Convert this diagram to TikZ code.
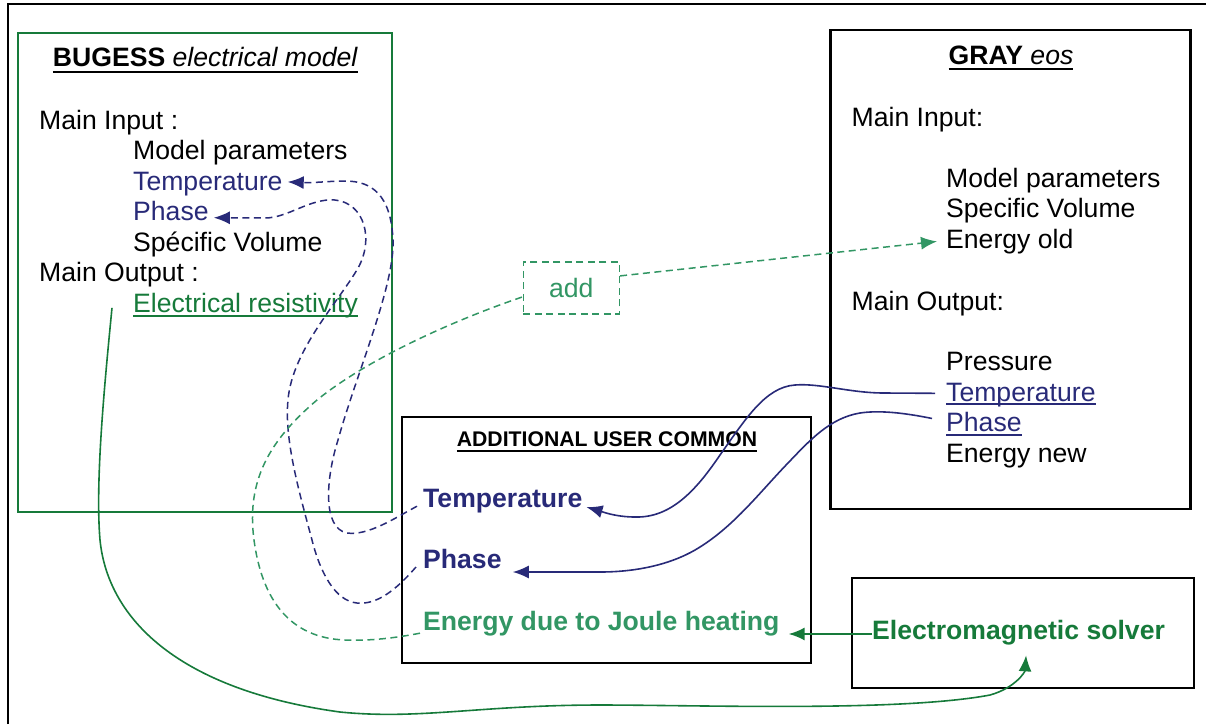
\documentclass[tikz,border=0pt]{standalone}
\usepackage{fontspec}
\setmainfont{Liberation Sans}
\usetikzlibrary{arrows.meta}
\definecolor{navyc}{RGB}{40,42,120}
\definecolor{dkgreen}{RGB}{22,122,58}
\definecolor{ltgreen}{RGB}{50,150,100}
\newcommand{\myul}[3]{\setbox0\hbox{#1}\rlap{\rule[-#2pt]{\wd0}{#3pt}}\box0}
\begin{document}
\begin{tikzpicture}[x=1pt,y=-1pt,
  txt/.style={anchor=base west, inner sep=0pt, font=\fontsize{26.6}{31}\selectfont},
  btxt/.style={anchor=base west, inner sep=0pt, font=\fontsize{26.6}{31}\selectfont\bfseries},
  ttl/.style={anchor=base, inner sep=0pt, font=\fontsize{26.6}{31}\selectfont},
  box/.style={draw, line width=2.2pt, inner sep=0pt},
  tip/.style={-{Latex[length=16pt,width=13pt]}},
  navyd/.style={draw=navyc, line width=1.5pt, dash pattern=on 7pt off 4.5pt, tip},
  navys/.style={draw=navyc, line width=1.6pt, tip},
  greens/.style={draw=dkgreen, line width=1.6pt, tip},
  greend/.style={draw=ltgreen, line width=1.5pt, dash pattern=on 7pt off 4.5pt},
]
\useasboundingbox (0,0) rectangle (1206,724);
% outer frame
\draw[line width=2.5pt] (8,724) -- (8,4) -- (1206,4);

% boxes
\node[box, draw=dkgreen, line width=2pt, minimum width=374pt, minimum height=479pt] (bugess) at (204.8,272.5) {};
\node[box, minimum width=360pt, minimum height=479pt] (gray) at (1010.5,269.7) {};
\node[box, minimum width=409pt, minimum height=246pt] (addc) at (606.8,540.3) {};
\node[box, minimum width=342pt, minimum height=110pt] (emb) at (1023,633) {};
\node[draw=ltgreen, line width=1.5pt, dash pattern=on 7pt off 4.5pt, minimum width=96pt, minimum height=52pt, inner sep=0pt,
      text=ltgreen, font=\fontsize{26.6}{31}\selectfont] (add) at (571.3,287.9) {add};

% BUGESS texts
\node[ttl] (btitle) at (205.5,66.5) {\myul{\textbf{BUGESS} \textit{electrical model}}{6}{2}};
\node[txt] (bMI) at (39,129.5) {Main Input :};
\node[txt] (bMP) at (133,159.9) {Model parameters};
\node[txt, text=navyc] (bT) at (133,190.3) {Temperature};
\node[txt, text=navyc] (bP) at (133,220.7) {Phase};
\node[txt] (bSV) at (133,251.1) {Spécific Volume};
\node[txt] (bMO) at (39,281.5) {Main Output :};
\node[txt, text=dkgreen] (bEr) at (133,312) {\myul{Electrical resistivity}{4.8}{1.6}};

% GRAY texts
\node[ttl] (gtitle) at (1011,64) {\myul{\textbf{GRAY} \textit{eos}}{6}{2}};
\node[txt] (gMI) at (851.5,126) {Main Input:};
\node[txt] (gMP) at (946,187.3) {Model parameters};
\node[txt] (gSV) at (946,217.8) {Specific Volume};
\node[txt] (gEo) at (946,248.3) {Energy old};
\node[txt] (gMO) at (851.5,310) {Main Output:};
\node[txt] (gPr) at (946,370.7) {Pressure};
\node[txt, text=navyc] (gT) at (946,401.2) {\myul{Temperature}{3.8}{1.6}};
\node[txt, text=navyc] (gP) at (946,431.7) {\myul{Phase}{3.8}{1.6}};
\node[txt] (gEn) at (946,462.2) {Energy new};

% ADDITIONAL texts
\node[anchor=base, inner sep=0pt, font=\fontsize{21.2}{25}\selectfont\bfseries] (atitle) at (607,446.7) {\myul{ADDITIONAL USER COMMON}{5}{1.8}};
\node[btxt, text=navyc] (aT) at (423,507) {Temperature};
\node[btxt, text=navyc] (aP) at (423,568) {Phase};
\node[btxt, text=ltgreen] (aE) at (423,630) {Energy due to Joule heating};

% EM solver
\node[btxt, text=dkgreen] (emT) at (872,639.5) {Electromagnetic solver};

% dashed navy: ADD Temperature -> BUGESS Temperature
\draw[navyd] ([xshift=-6pt,yshift=-5.6pt]aT.west)
  .. controls (395,518) and (368,536) .. (347,533)
  .. controls (322,528) and (326,478) .. (338,440)
  .. controls (356,375) and (395,285) .. (393,240)
  .. controls (391,195) and (372,181) .. (345,181)
  .. controls (330,181) and (315,183) .. ([xshift=5pt,yshift=2pt]bT.east);

% dashed navy: ADD Phase -> BUGESS Phase
\draw[navyd] ([xshift=-7pt,yshift=-8.5pt]aP.west)
  .. controls (396,590) and (377,605) .. (357,603)
  .. controls (335,601) and (320,572) .. (312,540)
  .. controls (300,495) and (284,440) .. (288,400)
  .. controls (292,350) and (340,300) .. (358,268)
  .. controls (374,240) and (365,203) .. (335,200)
  .. controls (310,198) and (288,218) .. (265,218)
  -- ([xshift=5pt,yshift=-6.5pt]bP.east);

% dashed green: Energy due -> add -> Energy old
\draw[greend] ([xshift=-3pt,yshift=-10pt]aE.west)
  .. controls (395,638) and (370,641) .. (345,640)
  .. controls (290,638) and (262,600) .. (254,540)
  .. controls (246,480) and (270,440) .. (317,400)
  .. controls (370,357) and (460,318) .. ([yshift=-9pt]add.west);
\draw[greend, tip] ([yshift=12pt]add.east) -- ([xshift=-9pt]gEo.west);

% solid navy: GRAY Temperature -> ADD Temperature
\draw[navys] ([xshift=-11pt,yshift=1.5pt]gT.west) -- (884,393)
  .. controls (850,393) and (820,383) .. (795,385)
  .. controls (765,387) and (745,420) .. (720,455)
  .. controls (695,492) and (670,518) .. (635,517)
  .. controls (615,517) and (600,511) .. ([xshift=4pt,yshift=-6.5pt]aT.east);

% solid navy: GRAY Phase -> ADD Phase
\draw[navys] ([xshift=-14pt,yshift=5.5pt]gP.west)
  .. controls (905,413) and (880,410) .. (860,413)
  .. controls (830,418) and (810,440) .. (788,463)
  .. controls (760,492) and (735,525) .. (700,547)
  .. controls (675,563) and (640,572) .. (600,572)
  -- ([xshift=11pt,yshift=-13.5pt]aP.east);

% solid green: Electrical resistivity -> EM solver
\draw[greens] ([xshift=-21pt,yshift=-2.7pt]bEr.west)
  .. controls (105,380) and (95,480) .. (100,540)
  .. controls (108,620) and (180,690) .. (340,712)
  .. controls (420,720) and (480,705) .. (600,705)
  .. controls (700,705) and (900,712) .. (990,695)
  .. controls (1015,688) and (1025,672) .. ([xshift=7.5pt,yshift=-10pt]emT.south);

% solid green: EM solver -> Energy due to Joule heating
\draw[greens, line width=2pt] ([yshift=-1.3pt]emT.west) -- ([xshift=9pt,yshift=-10.8pt]aE.east);
\end{tikzpicture}
\end{document}
